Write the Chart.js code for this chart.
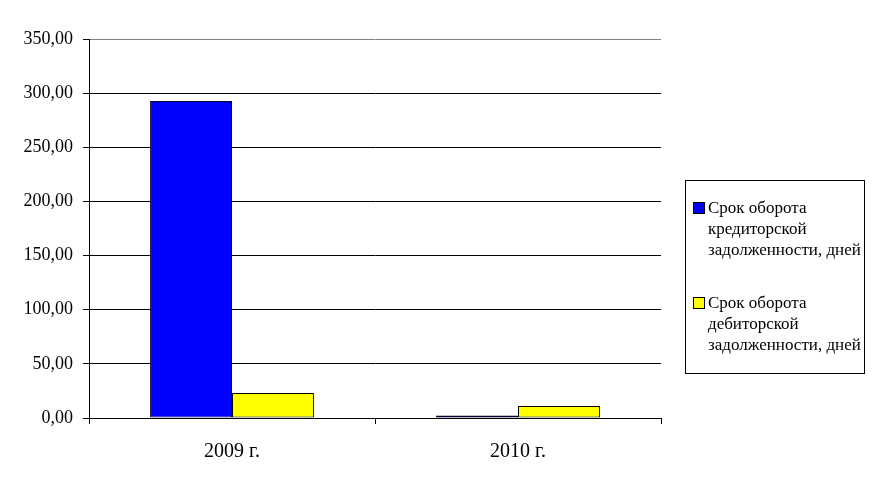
<!DOCTYPE html>
<html lang="ru">
<head>
    <meta charset="UTF-8">
    <title>Срок оборота задолженности</title>
    <style>
        body {
            margin: 0;
            padding: 0;
            background: #ffffff;
            font-family: "Liberation Serif", "DejaVu Serif", serif;
        }
        #wrap {
            position: relative;
            width: 876px;
            height: 489px;
        }
        #legend {
            position: absolute;
            left: 685px;
            top: 180px;
            width: 180px;
            height: 194px;
            border: 1px solid #000;
            box-sizing: border-box;
            font-size: 17px;
            line-height: 21px;
            color: #000;
        }
        .item {
            position: absolute;
            left: 7px;
        }
        .swatch {
            position: absolute;
            left: 0;
            top: 5px;
            width: 10px;
            height: 10px;
            border: 1px solid #000;
        }
        .text {
            position: absolute;
            left: 15px;
            white-space: nowrap;
        }
    </style>
</head>
<body>
    <div id="wrap">
        <canvas id="myChart" width="876" height="489"></canvas>
        <div id="legend"></div>
    </div>

    <script src="https://cdn.jsdelivr.net/npm/chart.js"></script>
    <script>
        const categories = ['2009 г.', '2010 г.'];
        const payableDays = [292.7, 2.4];
        const receivableDays = [23.0, 11.0];
        const seriesNames = [
            'Срок оборота кредиторской задолженности, дней',
            'Срок оборота дебиторской задолженности, дней'
        ];
        const legendLines = [
            ['Срок оборота', 'кредиторской', 'задолженности, дней'],
            ['Срок оборота', 'дебиторской', 'задолженности, дней']
        ];
        const seriesColors = ['#0000ff', '#ffff00'];

        const ctx = document.getElementById('myChart').getContext('2d');

        let chart = new Chart(ctx, {
            type: 'bar',
            data: {
                labels: categories,
                datasets: [
                    {
                        label: seriesNames[0],
                        data: payableDays,
                        backgroundColor: seriesColors[0],
                        borderColor: '#000033',
                        borderWidth: 1,
                        borderSkipped: false,
                        categoryPercentage: 0.573,
                        barPercentage: 1.0
                    },
                    {
                        label: seriesNames[1],
                        data: receivableDays,
                        backgroundColor: seriesColors[1],
                        borderColor: '#000000',
                        borderWidth: 1,
                        borderSkipped: false,
                        categoryPercentage: 0.573,
                        barPercentage: 1.0
                    }
                ]
            },
            options: {
                responsive: false,
                animation: false,
                layout: {
                    padding: { left: 0, right: 215, top: 39, bottom: 0 }
                },
                plugins: {
                    legend: { display: false },
                    tooltip: { enabled: false }
                },
                scales: {
                    x: {
                        grid: {
                            offset: true,
                            color: (c) => c.index === 2 ? '#808080' : 'rgba(0,0,0,0)',
                            tickColor: '#000000',
                            tickLength: 6,
                            lineWidth: 1
                        },
                        border: { color: '#000000' },
                        ticks: {
                            color: '#000000',
                            font: { family: '"Liberation Serif", serif', size: 20 },
                            padding: 16,
                            maxRotation: 0
                        },
                        afterFit: (scale) => { scale.height = 71; }
                    },
                    y: {
                        min: 0,
                        max: 350,
                        grid: {
                            color: (c) => c.tick && c.tick.value === 350 ? '#808080' : '#000000',
                            tickColor: '#000000',
                            tickLength: 6,
                            lineWidth: 1
                        },
                        border: { color: '#000000' },
                        ticks: {
                            stepSize: 50,
                            color: '#000000',
                            font: { family: '"Liberation Serif", serif', size: 18 },
                            padding: 10,
                            callback: (v) => Number(v).toFixed(2).replace('.', ',')
                        },
                        afterFit: (scale) => { scale.width = 89; }
                    }
                }
            }
        });

        // legend
        const legend = document.getElementById('legend');
        const itemTops = [16, 111];
        legendLines.forEach((lines, i) => {
            const item = document.createElement('div');
            item.className = 'item';
            item.style.top = itemTops[i] + 'px';
            item.title = seriesNames[i];
            const sw = document.createElement('div');
            sw.className = 'swatch';
            sw.style.background = seriesColors[i];
            const tx = document.createElement('div');
            tx.className = 'text';
            tx.innerHTML = lines.join('<br>');
            item.appendChild(sw);
            item.appendChild(tx);
            legend.appendChild(item);
        });
    </script>
</body>
</html>
